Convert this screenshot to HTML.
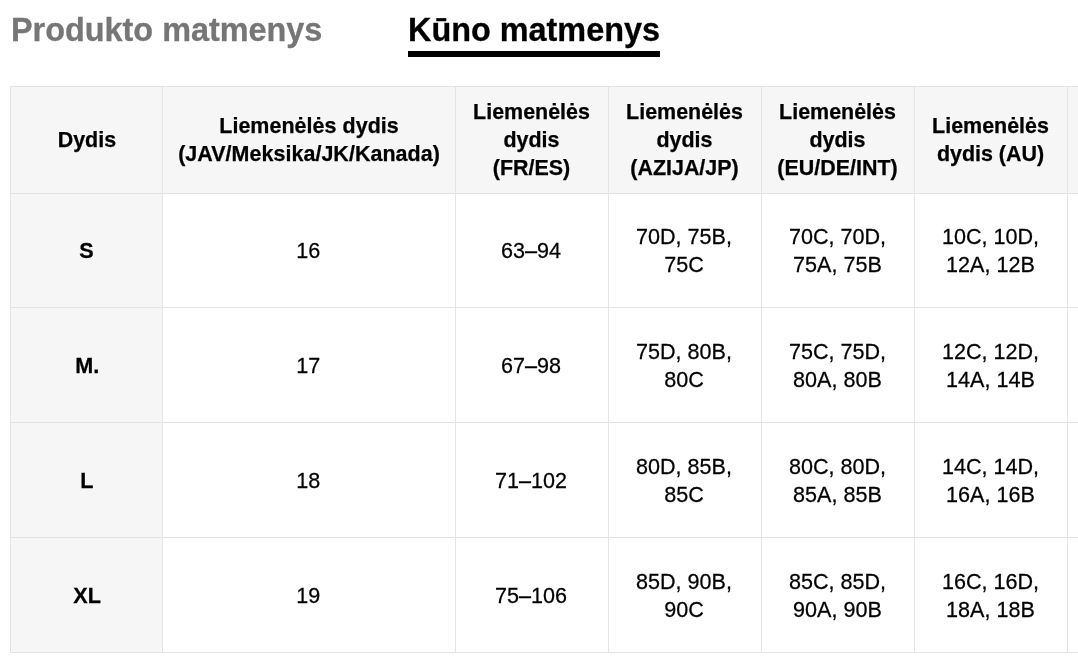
<!DOCTYPE html>
<html lang="lt">
<head>
<meta charset="utf-8">
<title>Kūno matmenys</title>
<style>
html,body{margin:0;padding:0;background:#fff;}
body{width:1078px;height:664px;overflow:hidden;position:relative;font-family:"Liberation Sans",Arial,Helvetica,sans-serif;color:#000;}
.tab{position:absolute;top:11px;font-weight:bold;font-size:32.4px;line-height:38px;white-space:nowrap;}
.tab.t1{left:11px;color:#767676;-webkit-text-stroke:0.3px #767676;}
.tab.t2{left:408px;color:#000;-webkit-text-stroke:0.3px #000;}
.bar{position:absolute;left:408px;top:51px;width:252px;height:6px;background:#000;}
table{position:absolute;left:10px;top:86px;border-collapse:collapse;table-layout:fixed;width:1210px;}
th,td{border:1px solid #e4e4e4;text-align:center;vertical-align:middle;font-size:21.45px;line-height:28px;padding:0 12px;box-sizing:border-box;}
th{background:#f6f6f6;font-weight:bold;padding:0 13px 0 12px;-webkit-text-stroke:0.25px #000;}
th:first-child{padding:0 12px 0 12.8px;}
th:nth-child(2){letter-spacing:0.05px;padding:0 12px;}
td{font-weight:normal;-webkit-text-stroke:0.25px #000;}
td.s{background:#f6f6f6;font-weight:bold;}
td span{display:inline-block;white-space:nowrap;line-height:28px;transform:matrix(1.006,0.0004,0,1.045,-0.7,0);transform-origin:50% 21.4px;}
td.s span{transform:matrix(1.006,0.0004,0,1.045,0.4,0);}
tr.h{height:107px;}
tr.r1{height:114px;}
tr.r{height:115px;}
tr.r td{padding-top:2px;}
</style>
</head>
<body>
<div class="tab t1">Produkto matmenys</div>
<div class="tab t2">Kūno matmenys</div>
<div class="bar"></div>
<table>
<colgroup><col style="width:152px"><col style="width:293px"><col style="width:153px"><col style="width:153px"><col style="width:153px"><col style="width:153px"><col style="width:153px"></colgroup>
<tr class="h">
<th>Dydis</th>
<th>Liemenėlės dydis (JAV/Meksika/JK/Kanada)</th>
<th>Liemenėlės dydis (FR/ES)</th>
<th>Liemenėlės dydis (AZIJA/JP)</th>
<th>Liemenėlės dydis (EU/DE/INT)</th>
<th>Liemenėlės dydis (AU)</th>
<th></th>
</tr>
<tr class="r1"><td class="s"><span>S</span></td><td><span>16</span></td><td><span>63–94</span></td><td><span>70D, 75B,</span><br><span>75C</span></td><td><span>70C, 70D,</span><br><span>75A, 75B</span></td><td><span>10C, 10D,</span><br><span>12A, 12B</span></td><td></td></tr>
<tr class="r"><td class="s"><span>M.</span></td><td><span>17</span></td><td><span>67–98</span></td><td><span>75D, 80B,</span><br><span>80C</span></td><td><span>75C, 75D,</span><br><span>80A, 80B</span></td><td><span>12C, 12D,</span><br><span>14A, 14B</span></td><td></td></tr>
<tr class="r"><td class="s"><span>L</span></td><td><span>18</span></td><td><span>71–102</span></td><td><span>80D, 85B,</span><br><span>85C</span></td><td><span>80C, 80D,</span><br><span>85A, 85B</span></td><td><span>14C, 14D,</span><br><span>16A, 16B</span></td><td></td></tr>
<tr class="r"><td class="s"><span>XL</span></td><td><span>19</span></td><td><span>75–106</span></td><td><span>85D, 90B,</span><br><span>90C</span></td><td><span>85C, 85D,</span><br><span>90A, 90B</span></td><td><span>16C, 16D,</span><br><span>18A, 18B</span></td><td></td></tr>
</table>
</body>
</html>
